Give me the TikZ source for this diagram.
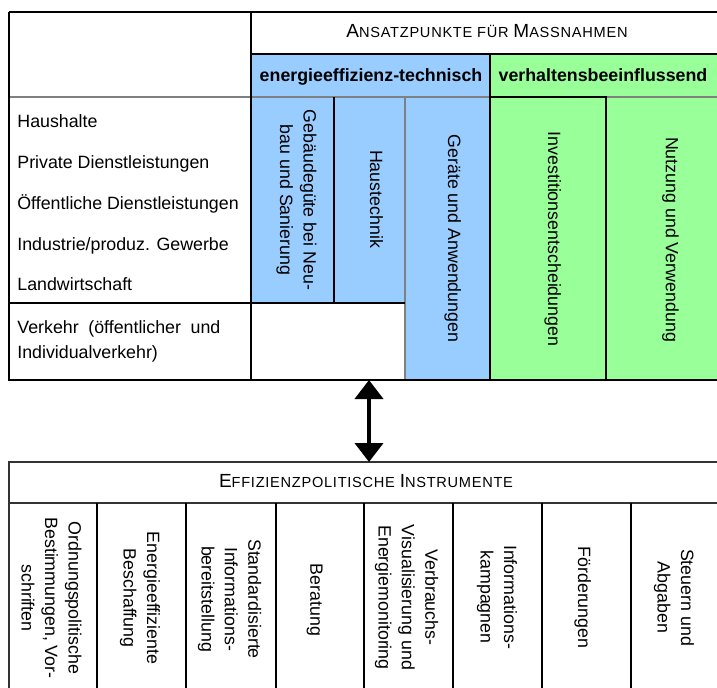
\documentclass[tikz,border=0pt]{standalone}
\usepackage{fontspec}
\setmainfont{Liberation Sans}
\newfontfamily\capsfont[LetterSpace=5]{Liberation Sans}
\usetikzlibrary{arrows.meta, positioning}

\definecolor{techblue}{RGB}{153,204,255}
\definecolor{verhgreen}{RGB}{153,255,153}
\definecolor{rulegray}{RGB}{128,128,128}

% petites capitales simulées pour les titres
\newcommand{\hdbig}[1]{{\fontsize{9.5}{11}\selectfont #1}}
\newcommand{\hdsmall}[1]{{\fontsize{7.3}{9}\selectfont #1}}

\begin{document}
\begin{tikzpicture}[
        % Une unité = un pixel de la référence
        x=0.5pt, y=-0.5pt,
        every node/.style = {font=\fontsize{8.9}{11.7}\selectfont, inner sep=0pt},
        % Titres en petites capitales
        title/.style = {anchor=base, font=\capsfont},
        % Titres des groupes colorés
        grouplabel/.style = {anchor=base, font=\fontsize{8.9}{11}\selectfont\bfseries},
        % Secteurs à gauche
        rowlabel/.style = {anchor=base west},
        % Textes verticaux des colonnes
        vlabel/.style = {rotate=-90, align=center},
        % Traits du tableau
        blackrule/.style = {draw=black, line width=0.7pt},
        grayrule/.style = {draw=rulegray, line width=1.2pt},
        colrule/.style = {draw=black, line width=0.8pt},
        % Double flèche entre les tableaux
        dblarrow/.style = {
            {Triangle[length=9.5pt, width=14pt]}-{Triangle[length=9.5pt, width=14pt]},
            line width=2pt
        }
    ]
    \useasboundingbox (0,0) rectangle (717,687);

    % 1. Fonds colorés
    \fill[techblue]  (251,54) rectangle (490,97);
    \fill[verhgreen] (490,54) rectangle (717,97);
    \fill[techblue]  (251,97) rectangle (405,303);
    \fill[techblue]  (405,97) rectangle (490,380);
    \fill[verhgreen] (490,97) rectangle (717,380);

    % 2. Traits du tableau du haut
    \draw[grayrule] (9,97) -- (717,97);
    \draw[grayrule] (405,97) -- (405,380);
    \draw[grayrule] (606,97) -- (606,380);
    \draw[blackrule] (9,12) -- (717,12);
    \draw[blackrule] (251,54) -- (717,54);
    \draw[blackrule] (9,12) -- (9,380) -- (717,380);
    \draw[blackrule] (251,12) -- (251,380);
    \draw[blackrule] (334,97) -- (334,303);
    \draw[blackrule] (9,303) -- (405,303);
    \draw[blackrule] (490,54) -- (490,97);
    \draw[black, line width=1pt] (490,97) rectangle (606,380);

    % 3. Traits du tableau du bas
    \draw[blackrule, draw=black!80] (717,462) -- (9,462) -- (9,700);
    \draw[blackrule, draw=black!80] (9,503) -- (717,503);
    \foreach \x in {97,186,276,364,453,542,631}
        \draw[colrule] (\x,503) -- (\x,700);

    % 4. Titres
    \node (ansatz) [title] at (487,37.7)
        {\hdbig{A}\hdsmall{NSATZPUNKTE FÜR }\hdbig{M}\hdsmall{ASSNAHMEN}};
    \node (technisch) [grouplabel] at (371,81.7) {energieeffizienz-technisch};
    \node (verhalten) [grouplabel] at (603,81.7) {verhaltensbeeinflussend};
    \node (instrumente) [title] at (366,487.7)
        {\hdbig{E}\hdsmall{FFIZIENZPOLITISCHE }\hdbig{I}\hdsmall{NSTRUMENTE}};

    % 5. Secteurs
    \node (haushalte) [rowlabel] at (17,127.5) {Haushalte};
    \node (privat)    [rowlabel] at (17,168) {Private Dienstleistungen};
    \node (oeffentl)  [rowlabel] at (17,209) {Öffentliche Dienstleistungen};
    \node (industrie) [rowlabel] at (17,250) {Industrie/produz. Gewerbe};
    \node (landwirt)  [rowlabel] at (17,290.5) {Landwirtschaft};
    \node (verkehr)   [anchor=north west, text width=101.5pt, align=justify,
                       font=\fontsize{8.9}{12.5}\selectfont] at (17,320)
        {Verkehr (öffentlicher und Individualverkehr)};

    % 6. Ansatzpunkte (colonnes verticales)
    \node (gebaeude)    [vlabel] at (296.5,200) {Gebäudegüte bei Neu-\\bau und Sanierung};
    \node (haustechnik) [vlabel] at (376.5,199) {Haustechnik};
    \node (geraete)     [vlabel] at (452.6,238.5) {Geräte und Anwendungen};
    \node (investition) [vlabel] at (552.6,239) {Investitionsentscheidungen};
    \node (nutzung)     [vlabel] at (670.5,239.5) {Nutzung und Verwendung};

    % 7. Instruments
    \node (ordnung)    [vlabel] at (51.5,598) {Ordnungspolitische\\Bestimmungen, Vor-\\schriften};
    \node (beschaff)   [vlabel] at (140,598) {Energieeffiziente\\Beschaffung};
    \node (standard)   [vlabel] at (229.5,599) {Standardisierte\\Informations-\\bereitstellung};
    \node (beratung)   [vlabel] at (314.6,600) {Beratung};
    \node (monitoring) [vlabel] at (406.5,597.5) {Verbrauchs-\\Visualisierung und\\Energiemonitoring};
    \node (kampagnen)  [vlabel] at (497,597) {Informations-\\kampagnen};
    \node (foerderung) [vlabel] at (582.6,597.5) {Förderungen};
    \node (steuern)    [vlabel] at (674,597.5) {Steuern und\\Abgaben};

    % 8. Double flèche
    \coordinate (pfeiloben)  at (369,380);
    \coordinate (pfeilunten) at (369,462);
    \draw[dblarrow] (pfeiloben) -- (pfeilunten);

\end{tikzpicture}
\end{document}
